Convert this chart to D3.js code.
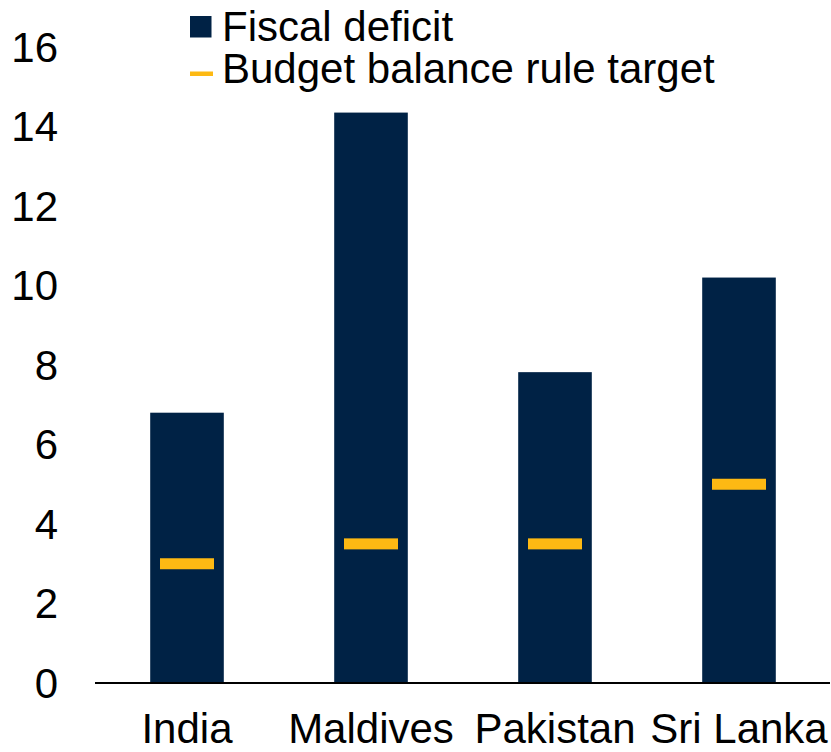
<!DOCTYPE html>
<html><head><meta charset="utf-8">
<script src="https://cdn.jsdelivr.net/npm/d3@7"></script>
<style>body{margin:0;background:#fff}text{font-family:"Liberation Sans",Arial,sans-serif}</style>
</head><body>
<svg id="c" width="831" height="752"></svg>
<script>
const categories = ["India", "Maldives", "Pakistan", "Sri Lanka"];
const fiscalDeficit = [6.8, 14.35, 7.82, 10.2];
const ruleTarget = [3.0, 3.5, 3.5, 5.0];
const yTicks = [0, 2, 4, 6, 8, 10, 12, 14, 16];
const seriesNames = ["Fiscal deficit", "Budget balance rule target"];

const svg = d3.select("#c");
const x = d3.scaleBand().domain(categories).range([95, 831]).paddingInner(0.6).paddingOuter(0.3);
const y = d3.scaleLinear().domain([0, 16]).range([683, 47]);
const navy = "#002245", gold = "#FDB913";
const fs = 42;

// y tick labels
svg.append("g").selectAll("text").data(yTicks).join("text")
  .attr("x", 58).attr("y", d => y(d)).attr("dy", "0.35em")
  .attr("text-anchor", "end").attr("font-size", fs).attr("fill", "#000")
  .text(d => d);

// bars
svg.append("g").selectAll("rect").data(categories).join("rect")
  .attr("x", d => x(d)).attr("width", x.bandwidth())
  .attr("y", (d, i) => y(fiscalDeficit[i]))
  .attr("height", (d, i) => y(0) - y(fiscalDeficit[i]))
  .attr("fill", navy);

// targets
const tw = 54, th = 11;
svg.append("g").selectAll("rect").data(categories).join("rect")
  .attr("x", d => x(d) + x.bandwidth() / 2 - tw / 2).attr("width", tw)
  .attr("y", (d, i) => y(ruleTarget[i]) - th / 2).attr("height", th)
  .attr("fill", gold);

// x axis line
svg.append("line").attr("x1", 95).attr("x2", 830).attr("y1", y(0)).attr("y2", y(0))
  .attr("stroke", "#000").attr("stroke-width", 2);

// x labels
svg.append("g").selectAll("text").data(categories).join("text")
  .attr("x", d => x(d) + x.bandwidth() / 2).attr("y", 743)
  .attr("text-anchor", "middle").attr("font-size", fs).attr("fill", "#000")
  .text(d => d);

// legend
const lg = svg.append("g");
lg.append("rect").attr("x", 190).attr("y", 16).attr("width", 21.5).attr("height", 21.5).attr("fill", navy);
lg.append("rect").attr("x", 190).attr("y", 71.5).attr("width", 23).attr("height", 4.5).attr("fill", gold);
lg.selectAll("text").data(seriesNames).join("text")
  .attr("x", 222).attr("y", (d, i) => i === 0 ? 41 : 82.5)
  .attr("font-size", fs).attr("fill", "#000").text(d => d);
</script>
</body></html>
